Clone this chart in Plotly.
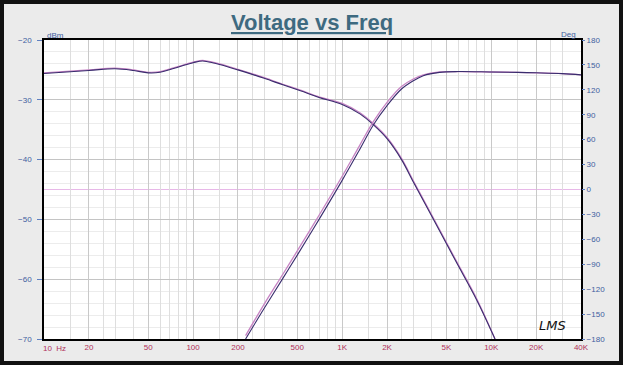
import plotly.graph_objects as go

# ---- data ----
mag_freq = [10, 20, 30, 40, 50, 60, 80, 100, 116, 140, 200, 300, 400, 525, 700,
            1000, 1324, 1622, 2000, 2500, 3040, 4000, 5730, 8000, 10600]
mag_dbm = [-25.6, -25.1, -24.8, -25.1, -25.5, -25.4, -24.5, -23.8, -23.5, -23.9,
           -25.0, -26.4, -27.5, -28.5, -29.6, -30.8, -32.4, -34.2, -36.5, -40.0,
           -44.0, -49.5, -56.8, -63.5, -70.0]
mag2_dbm = [-25.5, -25.0, -24.7, -25.0, -25.4, -25.3, -24.4, -23.7, -23.4, -23.8,
            -24.9, -26.3, -27.4, -28.4, -29.5, -30.6, -32.2, -34.0, -36.3, -39.8,
            -43.8, -49.3, -56.6, -63.3, -70.0]

ph_freq = [225, 300, 400, 500, 700, 1000, 1300, 1622, 2000, 2500, 3000, 3500,
           4500, 6000, 10000, 15000, 20000, 30000, 40000]
ph_deg = [-180, -143, -107, -79, -36, 11, 47, 78, 101, 121, 131, 137,
          141, 142, 141.5, 141, 140.5, 139.5, 138]
ph2_deg = [-176, -138, -102, -74, -31, 16, 52, 82, 105, 124, 133, 138,
           141.5, 142, 141.5, 141, 140.5, 139.5, 138]

x_grid = [10, 15, 20, 25, 30, 40, 50, 60, 70, 80, 90,
          100, 150, 200, 250, 300, 400, 500, 600, 700, 800, 900,
          1000, 1500, 2000, 2500, 3000, 4000, 5000, 6000, 7000, 8000, 9000,
          10000, 15000, 20000, 25000, 30000, 40000]
x_major = [10, 20, 50, 100, 200, 500, 1000, 2000, 5000, 10000, 20000, 40000]
x_major_text = ["", "20", "50", "100", "200", "500", "1K", "2K", "5K", "10K", "20K", "40K"]

title_text = "Voltage vs Freq"

# ---- figure ----
W, H = 623, 365
ML, MR, MT, MB = 44, 42, 40, 26
PW, PH = W - ML - MR, H - MT - MB

def px2x(px):
    return (px - ML) / PW

def py2y(py):
    return (H - MB - py) / PH

fig = go.Figure()

fig.add_trace(go.Scatter(x=mag_freq, y=mag2_dbm, mode="lines",
                         line=dict(color="#c784c4", width=1.3, shape="spline"),
                         hoverinfo="skip", showlegend=False))
fig.add_trace(go.Scatter(x=mag_freq, y=mag_dbm, mode="lines",
                         line=dict(color="#3a2d6e", width=1.1, shape="spline"),
                         showlegend=False))
fig.add_trace(go.Scatter(x=ph_freq, y=ph2_deg, mode="lines", yaxis="y2",
                         line=dict(color="#c784c4", width=1.3, shape="spline"),
                         hoverinfo="skip", showlegend=False))
fig.add_trace(go.Scatter(x=ph_freq, y=ph_deg, mode="lines", yaxis="y2",
                         line=dict(color="#3a2d6e", width=1.1, shape="spline"),
                         showlegend=False))

axis_font = dict(family="Liberation Sans, Arial", size=8)

fig.update_layout(
    width=W, height=H, autosize=False,
    margin=dict(l=ML, r=MR, t=MT, b=MB, pad=0),
    paper_bgcolor="#111111",
    plot_bgcolor="white",
    showlegend=False,
    xaxis=dict(type="log", range=[1, 4.60206], tickvals=x_grid,
               ticktext=[x_major_text[x_major.index(v)] if v in x_major else "" for v in x_grid],
               showgrid=True, gridcolor="#dedede", gridwidth=1,
               tickfont=dict(color="#b0305a", **axis_font),
               showline=True, linecolor="black", linewidth=1.5, mirror=True,
               ticks="", zeroline=False),
    xaxis2=dict(type="log", range=[1, 4.60206], overlaying="x", tickvals=x_major,
                showticklabels=False, showgrid=True, gridcolor="#c9c9c9",
                gridwidth=1, ticks="", showline=False, zeroline=False),
    yaxis=dict(range=[-70, -20], dtick=10, tick0=-70,
               showgrid=True, gridcolor="#c4c4c4", gridwidth=1,
               minor=dict(dtick=2, showgrid=True, gridcolor="#ececec", gridwidth=1),
               tickfont=dict(color="#4060a0", **axis_font),
               ticks="outside", ticklen=5, tickcolor="#6080c0",
               ticklabelstandoff=4,
               showline=True, linecolor="black", linewidth=1.5, mirror=True,
               zeroline=False),
    yaxis2=dict(range=[-180, 180], dtick=30, tick0=-180, overlaying="y", side="right",
                showgrid=False, tickfont=dict(color="#4060a0", **axis_font),
                ticks="outside", ticklen=3, tickcolor="#6080c0",
                zeroline=False, showline=False),
)

# dummy trace to activate xaxis2 grid
fig.add_trace(go.Scatter(x=[x_major[0]], y=[mag_dbm[0]], xaxis="x2", mode="markers",
                         marker=dict(opacity=0), hoverinfo="skip", showlegend=False))

shapes = [
    dict(type="rect", xref="paper", yref="paper", layer="below",
         x0=px2x(4), x1=px2x(W - 4), y0=py2y(H - 4), y1=py2y(4),
         fillcolor="#ebebeb", line=dict(width=0)),
    dict(type="rect", xref="paper", yref="paper", layer="below",
         x0=0, x1=1, y0=0, y1=1, fillcolor="white", line=dict(width=0)),
    dict(type="line", xref="paper", yref="y2", layer="below",
         x0=0, x1=1, y0=0, y1=0, line=dict(color="#e8b8e8", width=1)),
]
fig.update_layout(shapes=shapes)

annotations = [
    dict(text="<b><u>" + title_text + "</u></b>", xref="paper", yref="paper",
         x=px2x(312), y=py2y(22), showarrow=False, xanchor="center", yanchor="middle",
         font=dict(family="Liberation Sans, Arial", size=22, color="#3e6a80")),
    dict(text="dBm", xref="paper", yref="paper", x=px2x(45), y=py2y(35),
         showarrow=False, xanchor="left", yanchor="middle",
         font=dict(family="Liberation Sans, Arial", size=8, color="#4060a0")),
    dict(text="Deg", xref="paper", yref="paper", x=px2x(578), y=py2y(34),
         showarrow=False, xanchor="right", yanchor="middle",
         font=dict(family="Liberation Sans, Arial", size=8, color="#4060a0")),
    dict(text="10  Hz", xref="paper", yref="paper", x=px2x(41), y=py2y(348),
         showarrow=False, xanchor="left", yanchor="middle",
         font=dict(family="Liberation Sans, Arial", size=8, color="#b0305a")),
    dict(text="<i>LMS</i>", xref="paper", yref="paper", x=px2x(552), y=py2y(325),
         showarrow=False, xanchor="center", yanchor="middle",
         font=dict(family="DejaVu Sans", size=13, color="#111111")),
]
fig.update_layout(annotations=annotations)

fig.write_html("out.html", config={"displayModeBar": False},
               post_script="document.body.style.margin='0';document.body.style.padding='0';")
